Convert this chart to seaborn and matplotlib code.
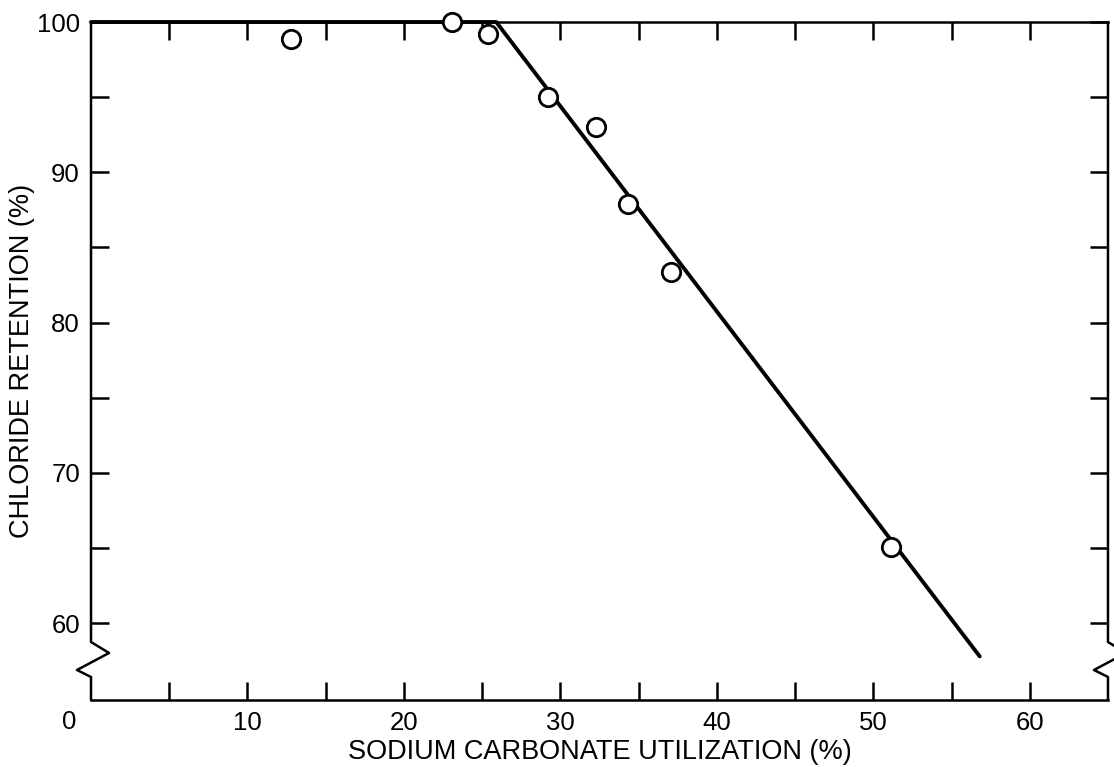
import matplotlib
matplotlib.use("Agg")
import matplotlib.pyplot as plt
import seaborn as sns
import pandas as pd

# measured points
utilization = [12.8, 23.1, 25.4, 29.2, 32.3, 34.3, 37.1, 51.1]
retention = [98.9, 100.0, 99.2, 95.0, 93.0, 87.9, 83.4, 65.1]

# fitted line (flat then falling)
fit_x = [0, 25.9, 56.8]
fit_y = [100, 100, 57.8]

x_major = [10, 20, 30, 40, 50, 60]
x_minor = [5, 15, 25, 35, 45, 55]
y_major = [60, 70, 80, 90, 100]
y_minor = [65, 75, 85, 95]

sns.set_style("ticks")
plt.rcParams['font.family'] = ['Liberation Sans', 'DejaVu Sans']
plt.rcParams['text.color'] = 'black'
plt.rcParams['axes.labelcolor'] = 'black'
plt.rcParams['xtick.color'] = 'black'
plt.rcParams['ytick.color'] = 'black'

fig = plt.figure(figsize=(11.14, 7.67), dpi=100)
ax = fig.add_axes([0.0817, 0.0874, 0.9129, 0.8839])

pts = pd.DataFrame({'x': utilization, 'y': retention})
fit = pd.DataFrame({'x': fit_x, 'y': fit_y})

sns.lineplot(data=fit, x='x', y='y', color='black', linewidth=2.8, ax=ax,
             sort=False, estimator=None, clip_on=False, zorder=3)
sns.scatterplot(data=pts, x='x', y='y', ax=ax, s=175, marker='o',
                facecolor='white', edgecolor='black', linewidth=2.0,
                clip_on=False, zorder=4)

ax.set_xlim(0, 65)
ax.set_ylim(54.9, 100)

ax.set_xticks(x_major)
ax.set_xticks(x_minor, minor=True)
ax.set_yticks(y_major)
ax.set_yticks(y_minor, minor=True)
ax.set_xticklabels([str(v) for v in x_major])
ax.set_yticklabels([str(v) for v in y_major])

for which in ('major', 'minor'):
    ax.tick_params(axis='both', which=which, direction='in', length=13,
                   width=1.8, color='black', top=True, right=True,
                   labelsize=18.5, labelcolor='black', pad=8)

# broken left/right axes drawn by hand
for s in ('left', 'right'):
    ax.spines[s].set_visible(False)
for s in ('top', 'bottom'):
    ax.spines[s].set_linewidth(1.8)
    ax.spines[s].set_color('black')

zz_x = [0, 0, 0.0177, -0.0138, 0, 0]
zz_y = [1, 0.0855, 0.0693, 0.0442, 0.0339, 0]
for off in (0, 1):
    ax.plot([v + off for v in zz_x], zz_y, color='black', lw=1.8,
            transform=ax.transAxes, clip_on=False, zorder=5)

ax.annotate('0', xy=(0, 0), xycoords='axes fraction', xytext=(-16, -16),
            textcoords='offset points', ha='center', va='center',
            fontsize=18.5)

ax.set_xlabel('SODIUM CARBONATE UTILIZATION (%)', fontsize=19.5, labelpad=3)
ax.set_ylabel('CHLORIDE RETENTION (%)', fontsize=19.5, labelpad=1)

fig.savefig('out.png', dpi=100)
